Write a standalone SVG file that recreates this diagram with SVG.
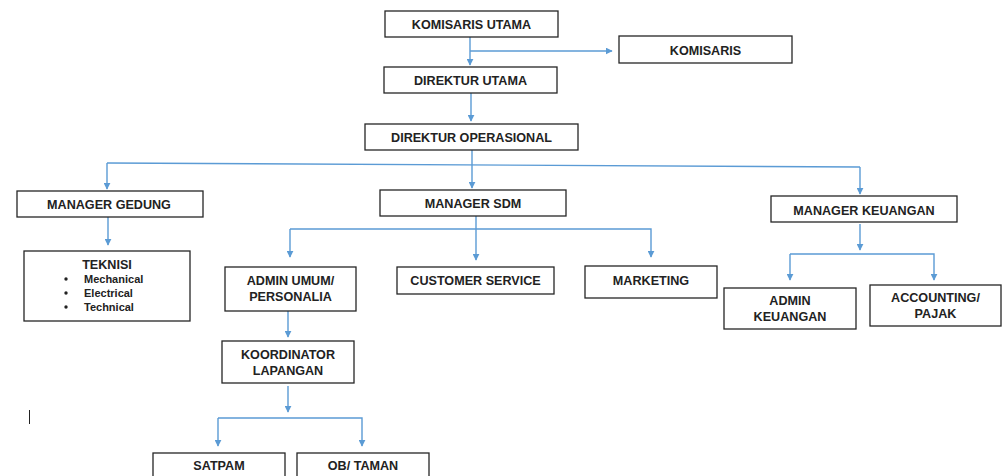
<svg xmlns="http://www.w3.org/2000/svg" width="1008" height="476" viewBox="0 0 1008 476">
<style>
.box{fill:#fff;stroke:#262626;stroke-width:1.3}
.t{font-family:"Liberation Sans",Arial,sans-serif;font-weight:bold;font-size:12.6px;fill:#222;text-anchor:middle}
.s{font-family:"Liberation Sans",Arial,sans-serif;font-weight:bold;font-size:11px;fill:#222}
.c{fill:none;stroke:#5B9BD5;stroke-width:1.4}
</style>
<defs>
<marker id="ah" viewBox="0 0 10 10" refX="9" refY="5" markerWidth="7" markerHeight="7" markerUnits="userSpaceOnUse" orient="auto">
<path d="M0,0 L10,5 L0,10 z" fill="#5B9BD5"/>
</marker>
</defs>
<rect width="1008" height="476" fill="#fff"/>
<g id="connectors">
<path class="c" d="M470,37 V65" marker-end="url(#ah)"/>
<path class="c" d="M470,51 H612" marker-end="url(#ah)"/>
<path class="c" d="M471,93 V121" marker-end="url(#ah)"/>
<path class="c" d="M472,150 V188" marker-end="url(#ah)"/>
<path class="c" d="M107,163 L860,167"/>
<path class="c" d="M107,163 V189" marker-end="url(#ah)"/>
<path class="c" d="M860,167 V194" marker-end="url(#ah)"/>
<path class="c" d="M108,217 V245" marker-end="url(#ah)"/>
<path class="c" d="M476,216 V260" marker-end="url(#ah)"/>
<path class="c" d="M290,229 H651 V257" marker-end="url(#ah)"/>
<path class="c" d="M290,229 V257" marker-end="url(#ah)"/>
<path class="c" d="M860,224 V250" marker-end="url(#ah)"/>
<path class="c" d="M790,254 H934 V280" marker-end="url(#ah)"/>
<path class="c" d="M790,254 V280" marker-end="url(#ah)"/>
<path class="c" d="M288,311 V337" marker-end="url(#ah)"/>
<path class="c" d="M288,386 V412" marker-end="url(#ah)"/>
<path class="c" d="M218,418 H362 V446" marker-end="url(#ah)"/>
<path class="c" d="M218,418 V446" marker-end="url(#ah)"/>
</g>
<g id="komisaris-utama"><rect class="box" x="385" y="11" width="173" height="26"/><text class="t" x="471.5" y="28.5">KOMISARIS UTAMA</text></g>
<g id="komisaris"><rect class="box" x="619" y="36" width="173" height="27"/><text class="t" x="705.5" y="54.5">KOMISARIS</text></g>
<g id="direktur-utama"><rect class="box" x="384" y="67" width="173" height="26"/><text class="t" x="470.5" y="84.5">DIREKTUR UTAMA</text></g>
<g id="direktur-operasional"><rect class="box" x="365" y="124" width="213" height="26"/><text class="t" x="471.5" y="141.5">DIREKTUR OPERASIONAL</text></g>
<g id="manager-gedung"><rect class="box" x="17" y="191" width="186" height="26"/><text class="t" x="109" y="208.5">MANAGER GEDUNG</text></g>
<g id="teknisi"><rect class="box" x="24" y="251" width="166" height="70"/>
<text class="t" x="107" y="268.5">TEKNISI</text>
<circle cx="66" cy="279" r="1.7" fill="#222"/><text class="s" x="84" y="283">Mechanical</text>
<circle cx="66" cy="293" r="1.7" fill="#222"/><text class="s" x="84" y="297">Electrical</text>
<circle cx="66" cy="307" r="1.7" fill="#222"/><text class="s" x="84" y="311">Technical</text>
</g>
<g id="manager-sdm"><rect class="box" x="380" y="190" width="186" height="26"/><text class="t" x="473" y="208">MANAGER SDM</text></g>
<g id="admin-umum"><rect class="box" x="225" y="267" width="131" height="44"/><text class="t" x="290.5" y="284.5">ADMIN UMUM/</text><text class="t" x="290.5" y="301">PERSONALIA</text></g>
<g id="customer-service"><rect class="box" x="397" y="267" width="157" height="27"/><text class="t" x="475.5" y="284.5">CUSTOMER SERVICE</text></g>
<g id="marketing"><rect class="box" x="585" y="266" width="132" height="32"/><text class="t" x="651" y="284.5">MARKETING</text></g>
<g id="manager-keuangan"><rect class="box" x="771" y="196" width="186" height="26"/><text class="t" x="864" y="214.5">MANAGER KEUANGAN</text></g>
<g id="admin-keuangan"><rect class="box" x="724" y="288" width="132" height="41"/><text class="t" x="790" y="304.5">ADMIN</text><text class="t" x="790" y="321">KEUANGAN</text></g>
<g id="accounting"><rect class="box" x="870" y="285" width="131" height="41"/><text class="t" x="935.5" y="301.5">ACCOUNTING/</text><text class="t" x="935.5" y="318">PAJAK</text></g>
<g id="koordinator"><rect class="box" x="222" y="341" width="132" height="42"/><text class="t" x="288" y="358.5">KOORDINATOR</text><text class="t" x="288" y="375">LAPANGAN</text></g>
<g id="satpam"><rect class="box" x="153" y="453" width="132" height="30"/><text class="t" x="219" y="470">SATPAM</text></g>
<g id="ob-taman"><rect class="box" x="297" y="453" width="132" height="30"/><text class="t" x="363" y="470">OB/ TAMAN</text></g>
<line x1="29.5" y1="410" x2="29.5" y2="424" stroke="#222" stroke-width="1"/>
</svg>
